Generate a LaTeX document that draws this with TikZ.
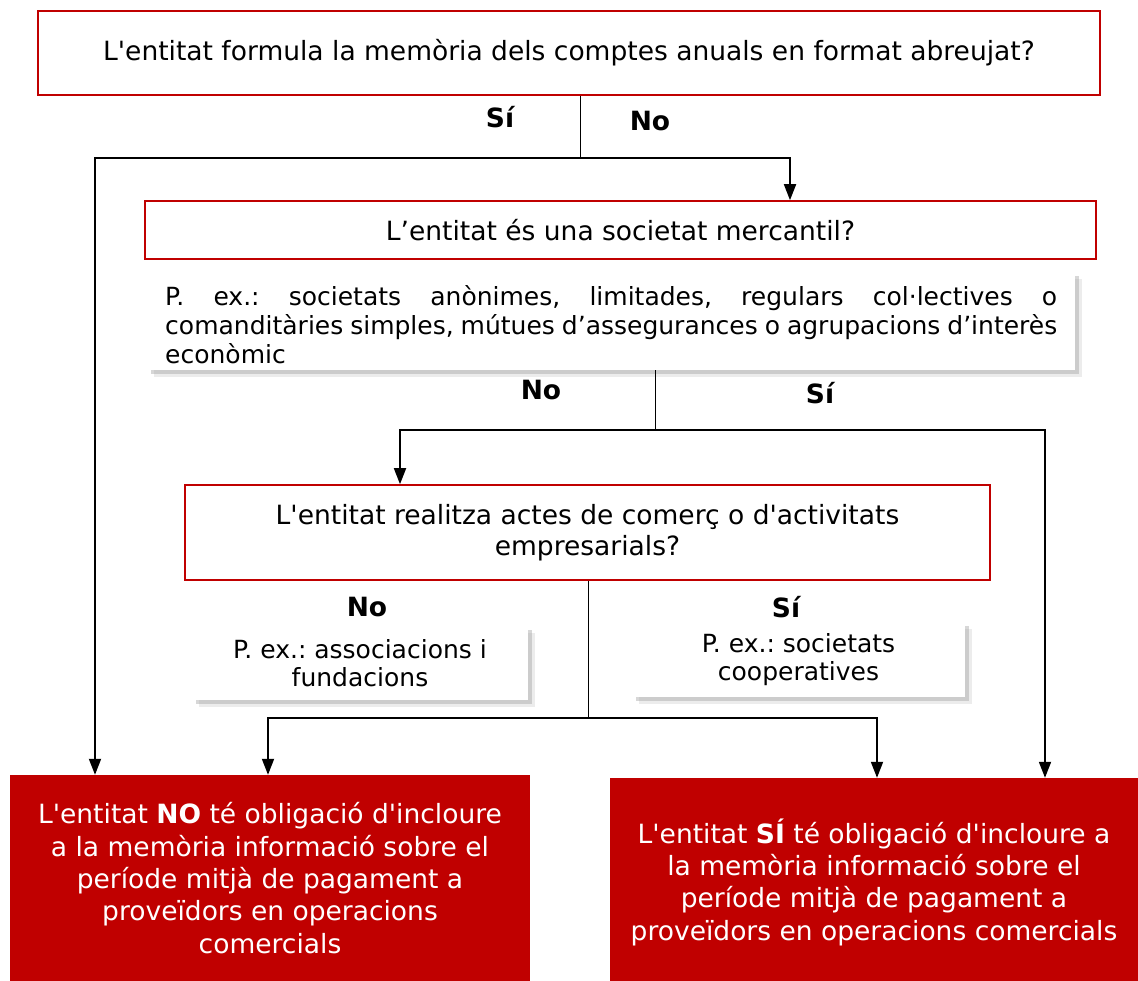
\documentclass[tikz,border=0pt]{standalone}
\usepackage{fontspec}
\setmainfont{DejaVu Sans}[Ligatures=TeXOff]
\usetikzlibrary{arrows.meta,shadows}
\definecolor{bred}{HTML}{C00000}
\frenchspacing
\hyphenpenalty=10000
\exhyphenpenalty=10000
\begin{document}
\begin{tikzpicture}[x=1pt,y=-1pt,
  txt/.style={font=\fontsize{26.5}{31}\selectfont},
  ntxt/.style={font=\fontsize{25}{28}\selectfont},
  qbox/.style={txt,draw=bred,line width=1.6pt,fill=white,inner sep=0pt,align=center},
  note/.style={ntxt,fill=white,inner sep=0pt,
     drop shadow={shadow xshift=7pt,shadow yshift=-7pt,fill=black!25,opacity=.3},
     drop shadow={shadow xshift=4pt,shadow yshift=-4pt,fill=black!35,opacity=.45}},
  rbox/.style={fill=bred,text=white,inner sep=0pt,align=center,font=\fontsize{26.5}{32.3}\selectfont},
  lab/.style={font=\fontsize{26.5}{30}\selectfont\bfseries},
  stem/.style={line width=0.8pt},
  branch/.style={line width=1.8pt},
  arr/.style={branch,-{Triangle[length=16pt,width=12pt]}}
]
\useasboundingbox (0,0) rectangle (1138,981);

\node[qbox,minimum width=1062pt,minimum height=84pt] (q1) at (569,53)
  {L'entitat formula la memòria dels comptes anuals en format abreujat?};
\node[qbox,minimum width=951pt,minimum height=58pt] (q2) at (620.5,230)
  {L’entitat és una societat mercantil?};
\node[note,minimum width=928pt,minimum height=98pt] (n1) at (611,321) {};
\node[ntxt,text width=892pt,align=justify,inner sep=0pt,anchor=north west,
  font=\fontsize{25}{29}\selectfont] (n1t) at (165,285)
  {P. ex.: societats anònimes, limitades, regulars col·lectives o \mbox{comanditàries} simples, mútues d’assegurances o agrupacions d’interès econòmic};
\node[qbox,minimum width=805pt,minimum height=95pt] (q3) at (587.5,532.5)
  {L'entitat realitza actes de comerç o d'activitats\\empresarials?};
\node[note,minimum width=336pt,minimum height=74pt,align=center] (n2) at (360,663)
  {P. ex.: associacions i\\fundacions};
\node[note,minimum width=333pt,minimum height=75pt,align=center] (n3) at (798.5,659.5)
  {P. ex.: societats\\cooperatives};
\node[rbox,minimum width=520pt,minimum height=206pt] (r1) at (270,878)
  {L'entitat \textbf{NO} té obligació d'incloure\\a la memòria informació sobre el\\període mitjà de pagament a\\proveïdors en operacions\\comercials};
\node[rbox,minimum width=528pt,minimum height=203pt,text depth=-8pt] (r2) at (874,879.5)
  {L'entitat \textbf{SÍ} té obligació d'incloure a\\la memòria informació sobre el\\període mitjà de pagament a\\proveïdors en operacions comercials};

% labels
\node[lab] (l1) at (500,117) {Sí};
\node[lab] (l2) at (650,121) {No};
\node[lab] (l3) at (541,390) {No};
\node[lab] (l4) at (820,393) {Sí};
\node[lab] (l5) at (367,607) {No};
\node[lab] (l6) at (786,607) {Sí};

% connectors
\coordinate (j1) at (580,158);
\coordinate (c1) at (95,0);
\coordinate (c2) at (790,0);
\draw[stem] (q1.south -| j1) -- (j1);
\draw[arr] (j1) -| (r1.north -| c1);
\draw[arr] (j1) -| (q2.north -| c2);

\coordinate (j2) at (655,430);
\coordinate (c3) at (400,0);
\coordinate (c4) at (1045,0);
\draw[stem] (n1.south -| j2) -- (j2);
\draw[arr] (j2) -| (q3.north -| c3);
\draw[arr] (j2) -| (r2.north -| c4);

\coordinate (j3) at (588,718);
\coordinate (c5) at (268,0);
\coordinate (c6) at (877,0);
\draw[stem] (q3.south -| j3) -- (j3);
\draw[arr] (j3) -| (r1.north -| c5);
\draw[arr] (j3) -| (r2.north -| c6);
\end{tikzpicture}
\end{document}
